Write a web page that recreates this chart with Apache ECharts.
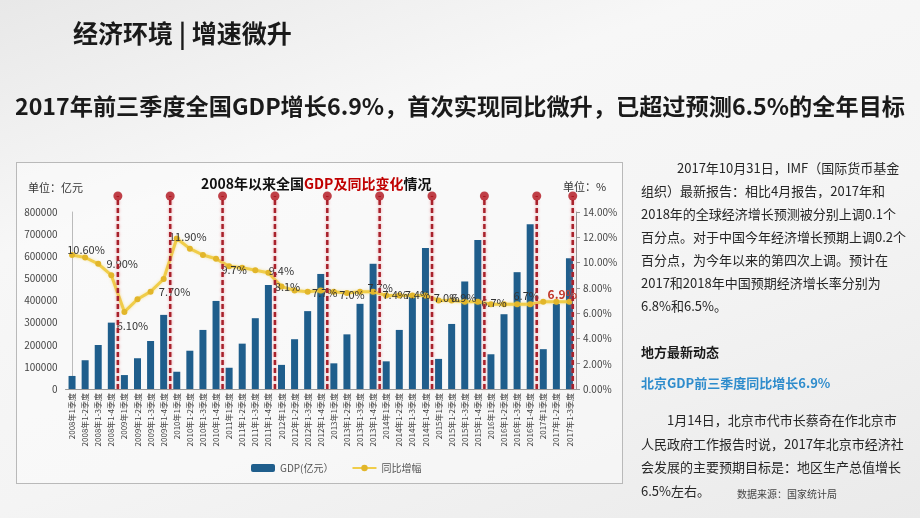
<!DOCTYPE html>
<html><head><meta charset="utf-8">
<script src="https://cdn.jsdelivr.net/npm/echarts@6/dist/echarts.min.js"></script>
<style>
html,body{margin:0;padding:0;width:920px;height:518px;overflow:hidden;font-family:"Noto Sans CJK SC","Noto Sans",sans-serif;}
body{background:linear-gradient(160deg,#e8e8e8 0%,#f7f7f7 30%,#f4f4f4 60%,#eaeaea 100%);position:relative;}
.t{position:absolute;white-space:nowrap;color:#262626;line-height:20px;font-size:13px;}
#box{position:absolute;left:16px;top:162px;width:605px;height:320px;border:1px solid #b9b9b9;background:rgba(255,255,255,0.4);}
#chart{position:absolute;left:0;top:0;width:920px;height:518px;}
#headline{transform-origin:0 50%;}
</style></head><body>
<div id="box"></div>
<div id="chart"></div>
<div class="t" style="left:73px;top:17px;font-size:25px;line-height:30px;font-weight:bold;color:#1a1a1a;">经济环境 | 增速微升</div>
<div class="t" id="headline" style="left:15px;top:90px;font-size:23px;line-height:30px;font-weight:bold;color:#1a1a1a;">2017年前三季度全国GDP增长6.9%，首次实现同比微升，已超过预测6.5%的全年目标</div>
<div class="t" style="left:677px;top:158px;">2017年10月31日，IMF（国际货币基金</div>
<div class="t" style="left:641px;top:181px;">组织）最新报告：相比4月报告，2017年和</div>
<div class="t" style="left:641px;top:204px;">2018年的全球经济增长预测被分别上调0.1个</div>
<div class="t" style="left:641px;top:227px;">百分点。对于中国今年经济增长预期上调0.2个</div>
<div class="t" style="left:641px;top:250px;">百分点，为今年以来的第四次上调。预计在</div>
<div class="t" style="left:641px;top:273px;">2017和2018年中国预期经济增长率分别为</div>
<div class="t" style="left:641px;top:296px;">6.8%和6.5%。</div>
<div class="t" style="left:641px;top:342px;font-weight:bold;color:#1a1a1a;">地方最新动态</div>
<div class="t" style="left:641px;top:373px;font-weight:bold;color:#2e8ccc;">北京GDP前三季度同比增长6.9%</div>
<div class="t" style="left:667px;top:410px;">1月14日，北京市代市长蔡奇在作北京市</div>
<div class="t" style="left:641px;top:434px;">人民政府工作报告时说，2017年北京市经济社</div>
<div class="t" style="left:641px;top:457px;">会发展的主要预期目标是：地区生产总值增长</div>
<div class="t" style="left:641px;top:481px;">6.5%左右。</div>
<div class="t" style="left:737px;top:484px;font-size:10px;color:#444;">数据来源：国家统计局</div>
<script>
const categories = [
 '2008年1季度','2008年1-2季度','2008年1-3季度','2008年1-4季度',
 '2009年1季度','2009年1-2季度','2009年1-3季度','2009年1-4季度',
 '2010年1季度','2010年1-2季度','2010年1-3季度','2010年1-4季度',
 '2011年1季度','2011年1-2季度','2011年1-3季度','2011年1-4季度',
 '2012年1季度','2012年1-2季度','2012年1-3季度','2012年1-4季度',
 '2013年1季度','2013年1-2季度','2013年1-3季度','2013年1-4季度',
 '2014年1季度','2014年1-2季度','2014年1-3季度','2014年1-4季度',
 '2015年1季度','2015年1-2季度','2015年1-3季度','2015年1-4季度',
 '2016年1季度','2016年1-2季度','2016年1-3季度','2016年1-4季度',
 '2017年1季度','2017年1-2季度','2017年1-3季度'
];
const gdpValues = [
 59000,130000,199000,300000,
 63000,139000,217000,335000,
 78000,173000,267000,398000,
 96000,205000,320000,470000,
 109000,225000,352000,520000,
 116000,247000,385000,566000,
 125000,267000,421000,637000,
 136000,294000,486000,674000,
 157000,338000,528000,745000,
 180000,385000,591000
];
const growthValues = [
 10.6,10.4,9.9,9.0,
 6.1,7.1,7.7,8.7,
 11.9,11.1,10.6,10.3,
 9.7,9.6,9.4,9.2,
 8.1,7.8,7.7,7.8,
 7.7,7.6,7.7,7.7,
 7.4,7.4,7.4,7.4,
 7.0,7.0,6.9,6.9,
 6.7,6.7,6.7,6.7,
 6.9,6.9,6.9
];
const growthLabelIdx  = [0,2,4,6,8,12,15,16,19,21,23,24,26,28,30,32,35,37];
const growthLabelText = ['10.60%','9.90%','6.10%','7.70%','11.90%','9.7%','9.4%','8.1%','7.7%','7.0%','7.7%','7.4%','7.4%','7.0%','6.9%','6.7%','6.7%','6.9%'];
const leftTicks = [0,100000,200000,300000,400000,500000,600000,700000,800000];
const rightTicks = [0,2,4,6,8,10,12,14];
const seriesNames = ['GDP(亿元）','同比增幅'];

// fit the headline into its slot
const hl = document.getElementById('headline');
const hlw = hl.getBoundingClientRect().width;
hl.style.transform = 'scaleX(' + (890 / hlw) + ')';

// label placement (styles, kept apart from data)
const labelOffsets = [[14,-5],[24,0],[8,14],[24,0],[11,-2],[5,3],[13,-2],[6,0],[4,2],[5,2],[7,-4],[9,-1],[5,-1],[8,-3],[-1,-4],[3,-1],[-4,-8],[6,-7]];

const markerTop = 15.27;
const markers = [];
for (let i = 0; i < categories.length - 1; i++) {
  if (categories[i].slice(0,4) !== categories[i+1].slice(0,4)) markers.push(i + 0.5);
}
markers.push(categories.length - 1 + 0.25);
const markerLineData = [];
markers.forEach(x => { markerLineData.push([x, 0], [x, markerTop], '-'); });

const lineData = growthValues.map((v, i) => {
  const k = growthLabelIdx.indexOf(i);
  if (k < 0) return v;
  const last = k === growthLabelIdx.length - 1;
  return {
    value: v,
    label: {
      show: true, formatter: growthLabelText[k], position: 'inside', offset: labelOffsets[k],
      fontSize: last ? 12 : 11, fontWeight: last ? 'bold' : 'normal',
      color: last ? '#c0392b' : '#333', fontFamily: '"Noto Sans CJK SC","Noto Sans",sans-serif'
    }
  };
});

const font = '"Noto Sans CJK SC","Noto Sans",sans-serif';
const chart = echarts.init(document.getElementById('chart'), null, {renderer: 'canvas'});
chart.setOption({
  animation: false,
  textStyle: {fontFamily: font},
  title: {
    text: '2008年以来全国{r|GDP及同比变化}情况',
    left: 196, top: 172,
    textStyle: {fontSize: 14, fontWeight: 'bold', color: '#111', fontFamily: font,
      rich: {r: {fontSize: 14, fontWeight: 'bold', color: '#c00000', fontFamily: font}}}
  },
  graphic: [
    {type: 'text', left: 28, top: 182, style: {text: '单位：亿元', fontSize: 11, fill: '#333', fontFamily: font}},
    {type: 'text', left: 563, top: 181, style: {text: '单位：%', fontSize: 11, fill: '#333', fontFamily: font}}
  ],
  legend: {
    data: seriesNames, left: 246, top: 458, itemWidth: 24, itemHeight: 8, itemGap: 18,
    textStyle: {fontSize: 10, color: '#555', fontFamily: font}
  },
  grid: {left: 65.5, right: 344, top: 212, bottom: 129},
  xAxis: [
    {type: 'category', data: categories, boundaryGap: true,
     axisLine: {lineStyle: {color: '#999'}}, axisTick: {show: false},
     axisLabel: {rotate: 90, interval: 0, fontSize: 8, color: '#444', margin: 4, fontFamily: font}},
    {type: 'value', min: -0.5, max: categories.length - 0.5, show: false}
  ],
  yAxis: [
    {type: 'value', min: leftTicks[0], max: leftTicks[leftTicks.length-1], interval: leftTicks[1]-leftTicks[0],
     axisLine: {show: true, lineStyle: {color: '#bbb'}}, axisTick: {show: false}, splitLine: {show: false},
     axisLabel: {fontSize: 10, color: '#444', margin: 8, fontFamily: font, formatter: v => String(v)}},
    {type: 'value', min: rightTicks[0], max: rightTicks[rightTicks.length-1], interval: rightTicks[1]-rightTicks[0],
     position: 'right',
     axisLine: {show: true, lineStyle: {color: '#999'}}, axisTick: {show: true, length: 4, lineStyle: {color: '#999'}},
     splitLine: {show: false},
     axisLabel: {fontSize: 10, color: '#444', margin: 7, fontFamily: font, formatter: v => v.toFixed(2) + '%'}}
  ],
  series: [
    {name: seriesNames[0], type: 'bar', data: gdpValues, barWidth: 7, xAxisIndex: 0, yAxisIndex: 0,
     itemStyle: {color: '#1f5e8c'}, z: 2},
    {name: 'markerLines', type: 'line', xAxisIndex: 1, yAxisIndex: 1, clip: false, silent: true,
     data: markerLineData, symbol: 'none', connectNulls: false,
     lineStyle: {color: '#a8212b', width: 2.5, type: [5, 3], shadowColor: 'rgba(230,120,130,0.8)', shadowBlur: 3}, z: 4},
    {name: seriesNames[1], type: 'line', data: lineData, xAxisIndex: 0, yAxisIndex: 1,
     symbol: 'circle', symbolSize: 6, lineStyle: {color: '#f0cd4a', width: 3, shadowColor: 'rgba(240,210,90,0.6)', shadowBlur: 3},
     itemStyle: {color: '#e2b62a'}, z: 3},
    {name: 'markers', type: 'scatter', xAxisIndex: 1, yAxisIndex: 1, clip: false, silent: true,
     data: markers.map(x => [x, markerTop]), symbolSize: 9, itemStyle: {color: '#b0121b'}, z: 6}
  ]
});
</script>
</body></html>
